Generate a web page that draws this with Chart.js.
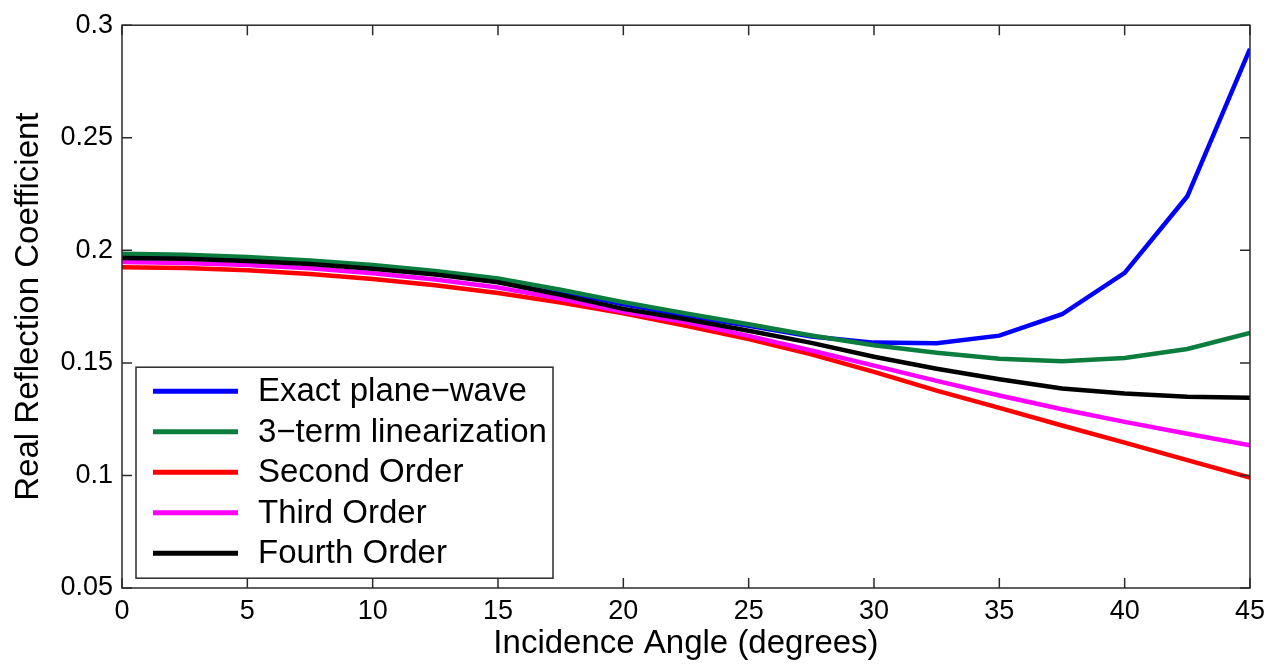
<!DOCTYPE html>
<html lang="en">
<head>
<meta charset="UTF-8">
<title>Real Reflection Coefficient</title>
<script src="https://cdn.jsdelivr.net/npm/chart.js"></script>
<style>
    html, body { margin: 0; padding: 0; background: #fff; }
    #wrap { width: 1272px; height: 665px; position: relative; }
</style>
</head>
<body>
<div id="wrap">
    <canvas id="grafico"></canvas>
</div>

<script>
// incidence angles (degrees)
const angulos = [0, 2.5, 5, 7.5, 10, 12.5, 15, 17.5, 20, 22.5, 25, 27.5, 30, 32.5, 35, 37.5, 40, 42.5, 45];

// series
const exata     = [0.1978, 0.1974, 0.1964, 0.1949, 0.1929, 0.1902, 0.1868, 0.1818, 0.1760, 0.1710, 0.1665, 0.1617, 0.1590, 0.1587, 0.1621, 0.1716, 0.1900, 0.2240, 0.2895];
const linear3   = [0.1985, 0.1980, 0.1970, 0.1955, 0.1935, 0.1908, 0.1875, 0.1825, 0.1770, 0.1720, 0.1672, 0.1622, 0.1578, 0.1545, 0.1518, 0.1507, 0.1522, 0.1562, 0.1633];
const segunda   = [0.1925, 0.1921, 0.1911, 0.1895, 0.1873, 0.1845, 0.1810, 0.1768, 0.1720, 0.1665, 0.1606, 0.1538, 0.1460, 0.1377, 0.1300, 0.1222, 0.1146, 0.1068, 0.0990];
const terceira  = [0.1948, 0.1944, 0.1935, 0.1920, 0.1898, 0.1870, 0.1835, 0.1785, 0.1727, 0.1680, 0.1620, 0.1555, 0.1488, 0.1420, 0.1355, 0.1294, 0.1238, 0.1185, 0.1134];
const quarta    = [0.1966, 0.1962, 0.1953, 0.1939, 0.1918, 0.1893, 0.1858, 0.1802, 0.1740, 0.1694, 0.1643, 0.1589, 0.1527, 0.1474, 0.1427, 0.1386, 0.1364, 0.1350, 0.1345];

const nomes = ['Exact plane\u2212wave', '3\u2212term linearization', 'Second Order', 'Third Order', 'Fourth Order'];
const cores = ['#0000ff', '#0b7d3e', '#ff0000', '#ff00ff', '#000000'];

const fonte = '"Liberation Sans", Arial, sans-serif';

function pontos(serie) {
    return angulos.map((a, i) => ({ x: a, y: serie[i] }));
}

const series = [exata, linear3, segunda, terceira, quarta];

const datasets = series.map((s, i) => ({
    label: nomes[i],
    data: pontos(s),
    borderColor: cores[i],
    backgroundColor: cores[i],
    borderWidth: 4.5,
    pointRadius: 0,
    tension: 0,
    fill: false,
    order: series.length - i   // later series drawn on top, like matlab
}));

// box around plot + inward ticks on all four sides
const moldura = {
    id: 'moldura',
    afterDraw(chart) {
        const ctx = chart.ctx;
        const a = chart.chartArea;
        const sx = chart.scales.x, sy = chart.scales.y;
        const tam = 10;
        ctx.save();
        ctx.strokeStyle = '#2b2b2b';
        ctx.lineWidth = 1.5;
        ctx.strokeRect(a.left, a.top, a.right - a.left, a.bottom - a.top);
        ctx.beginPath();
        sx.ticks.forEach(t => {
            const px = sx.getPixelForValue(t.value);
            ctx.moveTo(px, a.bottom); ctx.lineTo(px, a.bottom - tam);
            ctx.moveTo(px, a.top); ctx.lineTo(px, a.top + tam);
        });
        sy.ticks.forEach(t => {
            const py = sy.getPixelForValue(t.value);
            ctx.moveTo(a.left, py); ctx.lineTo(a.left + tam, py);
            ctx.moveTo(a.right, py); ctx.lineTo(a.right - tam, py);
        });
        ctx.stroke();
        ctx.restore();
    }
};

// legend box in lower left of the plot
const legenda = {
    id: 'legenda',
    afterDraw(chart) {
        const ctx = chart.ctx;
        const a = chart.chartArea;
        const x0 = a.left + 14, y0 = a.top + 342;
        const w = 417, h = 211;
        ctx.save();
        ctx.fillStyle = '#fff';
        ctx.fillRect(x0, y0, w, h);
        ctx.strokeStyle = '#2b2b2b';
        ctx.lineWidth = 1.5;
        ctx.strokeRect(x0, y0, w, h);
        ctx.font = '33px ' + fonte;
        ctx.textBaseline = 'middle';
        chart.data.datasets.forEach((ds, i) => {
            const y = y0 + 24 + i * 40.5;
            ctx.strokeStyle = ds.borderColor;
            ctx.lineWidth = 5;
            ctx.beginPath();
            ctx.moveTo(x0 + 17, y);
            ctx.lineTo(x0 + 102, y);
            ctx.stroke();
            ctx.fillStyle = '#000';
            ctx.fillText(ds.label, x0 + 122, y + 1);
        });
        ctx.restore();
    }
};

const config = {
    type: 'line',
    data: { datasets: datasets },
    options: {
        responsive: true,
        maintainAspectRatio: false,
        animation: false,
        devicePixelRatio: 1,
        layout: { padding: { left: 0, right: 19, top: 20, bottom: 0 } },
        plugins: {
            legend: { display: false },
            tooltip: { enabled: false }
        },
        scales: {
            x: {
                type: 'linear',
                min: 0,
                max: 45,
                grid: { display: false, drawTicks: false },
                border: { display: false },
                ticks: {
                    stepSize: 5,
                    color: '#000',
                    padding: 7,
                    maxRotation: 0,
                    font: { size: 27, family: fonte }
                },
                title: {
                    display: true,
                    text: 'Incidence Angle (degrees)',
                    color: '#000',
                    font: { size: 33, family: fonte },
                    padding: { top: 0, bottom: 1 }
                },
                afterFit(s) { s.height = 77; }
            },
            y: {
                min: 0.05,
                max: 0.3,
                grid: { display: false, drawTicks: false },
                border: { display: false },
                ticks: {
                    stepSize: 0.05,
                    color: '#000',
                    padding: 9,
                    font: { size: 27, family: fonte },
                    callback: v => Number(v.toFixed(2)).toString()
                },
                title: {
                    display: true,
                    text: 'Real Reflection Coefficient',
                    color: '#000',
                    font: { size: 33, family: fonte },
                    padding: { top: 9, bottom: 0 }
                },
                afterFit(s) { s.width = 122; }
            }
        }
    },
    plugins: [moldura, legenda]
};

const grafico = new Chart(document.getElementById('grafico'), config);
</script>
</body>
</html>
